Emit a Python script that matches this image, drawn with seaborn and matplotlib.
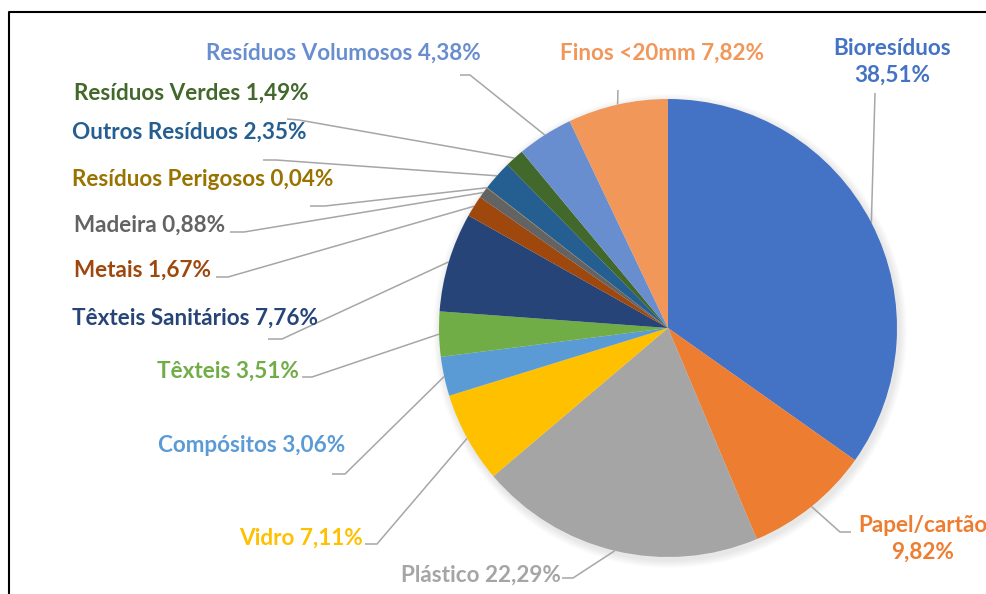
import numpy as np
import matplotlib
matplotlib.use("Agg")
import matplotlib.pyplot as plt
import seaborn as sns
from matplotlib.patches import Circle

# dados
categorias = ['Bioresíduos', 'Papel/cartão', 'Plástico', 'Vidro', 'Compósitos',
              'Têxteis', 'Têxteis Sanitários', 'Metais', 'Madeira',
              'Resíduos Perigosos', 'Outros Resíduos', 'Resíduos Verdes',
              'Resíduos Volumosos', 'Finos <20mm']
valores = [38.51, 9.82, 22.29, 7.11, 3.06, 3.51, 7.76, 1.67, 0.88,
           0.04, 2.35, 1.49, 4.38, 7.82]
cores = ['#4472C4', '#ED7D31', '#A5A5A5', '#FFC000', '#5B9BD5', '#70AD47',
         '#264478', '#9E480E', '#636363', '#997300', '#255E91', '#43682B',
         '#698ED0', '#F1975A']
duas_linhas = ['Bioresíduos', 'Papel/cartão']

sns.set_theme(style="white")
plt.rcParams['font.family'] = ['Lato', 'DejaVu Sans']

W, H = 986, 594
def py(y):
    # coordenada de pixel (y para baixo) -> dados
    return H - y

# posição das etiquetas em pixels: (x, y, ha, pontos da linha de chamada)
layout = [
    (892, 62, 'center', [(875, 93), (875, 93)]),
    (923, 539, 'center', [(851, 532), (840, 532)]),
    (561, 575, 'right', [(562, 578), (573, 578)]),
    (363, 538, 'right', [(365, 544), (377, 544)]),
    (345, 446, 'right', [(332, 474), (345, 474)]),
    (299, 371, 'right', [(302, 377), (312, 377)]),
    (72, 318, 'left', [(268, 339), (282, 339)]),
    (74, 270, 'left', [(216, 277), (228, 277)]),
    (74, 225, 'left', [(230, 232), (244, 232)]),
    (72, 179, 'left', [(310, 206), (325, 206)]),
    (72, 132, 'left', [(263, 160), (276, 160)]),
    (74, 93, 'left', [(287, 119), (299, 120)]),
    (481, 53, 'right', [(460, 75), (470, 75)]),
    (560, 53, 'left', [(618, 90), (618, 90)]),
]

cx, cy, r = 668, py(328), 229

fig = plt.figure(figsize=(W / 100, H / 100), dpi=100)
ax = fig.add_axes([0, 0, 1, 1])

# sombra suave
for k in range(8):
    ax.add_patch(Circle((cx + 2, cy - 3), r + 8 - k, color='black',
                        alpha=0.012, lw=0, zorder=0))

wedges, _ = ax.pie(valores, colors=cores, startangle=90, counterclock=False,
                   center=(cx, cy), radius=r, wedgeprops=dict(linewidth=0))

for i, w in enumerate(wedges):
    w.set_zorder(2)
    ang = np.deg2rad((w.theta1 + w.theta2) / 2)
    ex, ey = cx + r * np.cos(ang), cy + r * np.sin(ang)
    tx, ty, ha, pts = layout[i]
    xs = [p[0] for p in pts] + [ex]
    ys = [py(p[1]) for p in pts] + [ey]
    ax.plot(xs, ys, color='#A6A6A6', lw=1.1, zorder=1, solid_capstyle='butt')
    pct = f"{valores[i]:.2f}".replace('.', ',') + '%'
    if categorias[i] in duas_linhas:
        txt = categorias[i] + '\n' + pct
    else:
        txt = categorias[i] + ' ' + pct
    ax.text(tx, py(ty), txt, ha=ha, va='center', color=cores[i],
            fontsize=16.2, fontweight='bold', linespacing=1.35, zorder=3)

# moldura (só topo e esquerda visíveis)
ax.plot([9, 9, W + 5], [py(H + 5), py(12), py(12)], color='black', lw=1.5,
        zorder=4, clip_on=False)

ax.set_xlim(0, W)
ax.set_ylim(0, H)
ax.set_aspect('equal')
ax.axis('off')

fig.savefig('out.png', dpi=100)
